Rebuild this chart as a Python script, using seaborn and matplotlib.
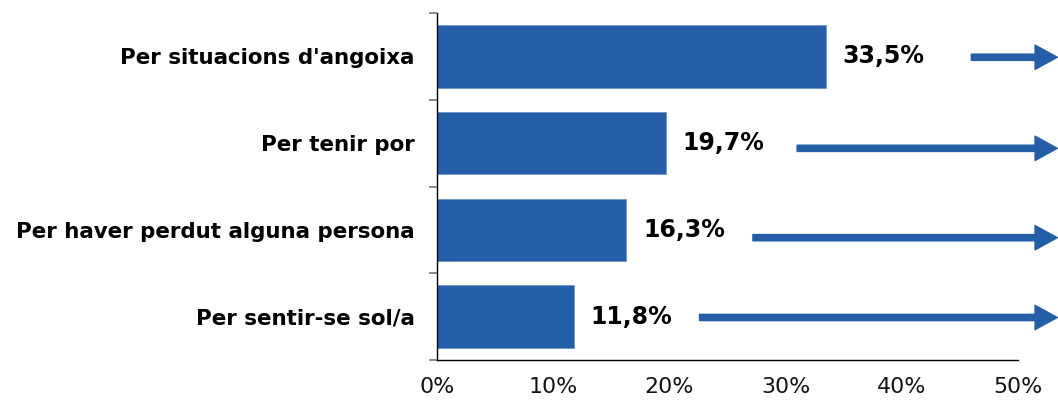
import matplotlib
matplotlib.use("Agg")
import matplotlib.pyplot as plt
from matplotlib.patches import FancyArrowPatch
import seaborn as sns
import pandas as pd

# Motius (percentatge de respostes)
categories = [
    "Per situacions d'angoixa",
    "Per tenir por",
    "Per haver perdut alguna persona",
    "Per sentir-se sol/a",
]
values = [33.5, 19.7, 16.3, 11.8]
value_labels = ["33,5%", "19,7%", "16,3%", "11,8%"]
x_ticks = [0, 10, 20, 30, 40, 50]
x_tick_labels = ["0%", "10%", "20%", "30%", "40%", "50%"]

# Trend arrows: start (in % units) and end beyond the axis edge
arrow_start = [46.0, 31.0, 27.2, 22.6]
arrow_end = 53.4
arrow_dy = [0.01, 0.06, 0.09, 0.01]

BLUE = "#245EA6"

sns.set_theme(style="white")
plt.rcParams["font.family"] = ["DejaVu Sans"]

df = pd.DataFrame({"motiu": categories, "pct": values})

fig = plt.figure(figsize=(10.58, 4.0), dpi=100)
ax = fig.add_axes([0.413, 0.1, 0.549, 0.8675])

sns.barplot(data=df, y="motiu", x="pct", orient="h", color=BLUE,
            saturation=1, width=0.72, ax=ax, edgecolor="#6f95c8", linewidth=0.6)

ax.set_xlim(0, 50)
ax.set_ylim(3.5, -0.5)
ax.set_xlabel("")
ax.set_ylabel("")

ax.set_xticks(x_ticks)
ax.set_xticklabels(x_tick_labels, fontsize=15.9, color="#111111")
ax.tick_params(axis="x", direction="out", length=6, width=1, color="#444444", pad=6)

ax.set_yticks(range(len(categories)))
ax.set_yticklabels(categories, fontsize=15.4, fontweight="bold", color="black")
ax.tick_params(axis="y", which="major", length=0, pad=16)
ax.set_yticks([i - 0.5 for i in range(len(categories) + 1)], minor=True)
ax.tick_params(axis="y", which="minor", direction="out", length=6, width=1.2,
               color="#777777", left=True)

for side in ["top", "right"]:
    ax.spines[side].set_visible(False)
for side in ["left", "bottom"]:
    ax.spines[side].set_visible(True)
    ax.spines[side].set_color("black")
    ax.spines[side].set_linewidth(1.0)

for i, (v, lab) in enumerate(zip(values, value_labels)):
    ax.annotate(lab, xy=(v, i), xytext=(12, 0), textcoords="offset points",
                ha="left", va="center", fontsize=17, fontweight="bold",
                color="black")

for i, (x0, dy) in enumerate(zip(arrow_start, arrow_dy)):
    arr = FancyArrowPatch((x0, i + dy), (arrow_end, i + dy),
                          arrowstyle="simple,head_length=1.6,head_width=1.75,tail_width=0.45",
                          mutation_scale=10, color=BLUE, clip_on=False,
                          shrinkA=0, shrinkB=0)
    ax.add_patch(arr)

fig.savefig("out.png", dpi=100)
